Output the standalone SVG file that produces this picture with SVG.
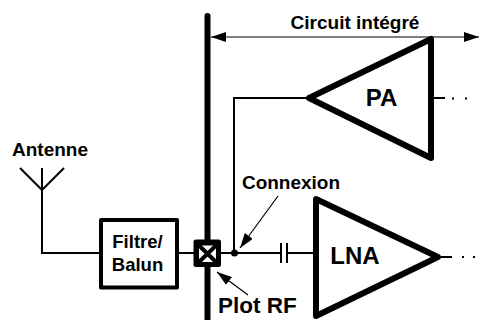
<svg xmlns="http://www.w3.org/2000/svg" width="479" height="320" viewBox="0 0 479 320">
<style>
text{font-family:"Liberation Sans",Arial,sans-serif;font-weight:bold;fill:#000}
.w{fill:none;stroke:#000;stroke-width:2}
.t{fill:#fff;stroke:#000;stroke-width:6;stroke-linejoin:round}
.thin{fill:none;stroke:#000;stroke-width:1.2}
</style>
<defs>
<marker id="a" markerUnits="userSpaceOnUse" markerWidth="16" markerHeight="10" refX="15" refY="5" orient="auto-start-reverse"><path d="M0 0L15 5L0 10Z" fill="#000"/></marker>
</defs>
<g id="connectors">
<path class="w" d="M20 168L42 190L64 168M42 168V253H100"/>
<path class="w" d="M178 253H195"/>
<path class="w" d="M220 253H281M287 253H316"/>
<path class="w" d="M281 243V263M287 243V263"/>
<path class="w" d="M234 253V98H307"/>
<path class="w" d="M431 98H445M439 257H452"/>
<path class="w" d="M452 98.500h2M465 98.500h2M462 257h2M473 257h2"/>
<path class="thin" d="M211 37H479" marker-start="url(#a)" marker-end="url(#a)"/>
<path class="thin" d="M278 196L240 248" marker-end="url(#a)"/>
<path class="thin" d="M248 295L217 272" marker-end="url(#a)"/>
<circle cx="234.500" cy="253" r="3.500" fill="#000"/>
</g>
<g id="bar"><path d="M207.500 16V320" fill="none" stroke="#000" stroke-width="6" stroke-linecap="round"/></g>
<g id="antenne"><text x="50" y="156" font-size="19" text-anchor="middle" textLength="76" lengthAdjust="spacingAndGlyphs">Antenne</text></g>
<g id="filtre">
<rect x="101" y="220" width="76" height="67.500" fill="#fff" stroke="#000" stroke-width="4" stroke-linejoin="round"/>
<text x="137.500" y="248" font-size="18.500" text-anchor="middle">Filtre/</text>
<text x="137.500" y="271" font-size="18.500" text-anchor="middle">Balun</text>
</g>
<g id="plot">
<rect x="193.500" y="239.500" width="27.500" height="27.500" rx="2.500" fill="#000"/>
<path d="M199 245.500H216V262H199Z" fill="#fff"/>
<path d="M199 245.500L216 262M216 245.500L199 262" stroke="#000" stroke-width="4" fill="none"/>
<text x="218" y="313" font-size="22.500">Plot RF</text>
</g>
<g id="pa">
<path class="t" d="M309 98L431 39V158Z"/>
<text x="381.500" y="106" font-size="24" text-anchor="middle">PA</text>
</g>
<g id="lna">
<path class="t" d="M316 199V316L438 257Z"/>
<text x="355" y="264" font-size="24" text-anchor="middle">LNA</text>
</g>
<g id="labels">
<text x="355" y="29" font-size="19" text-anchor="middle">Circuit intégré</text>
<text x="291" y="189" font-size="19" text-anchor="middle">Connexion</text>
</g>
</svg>
